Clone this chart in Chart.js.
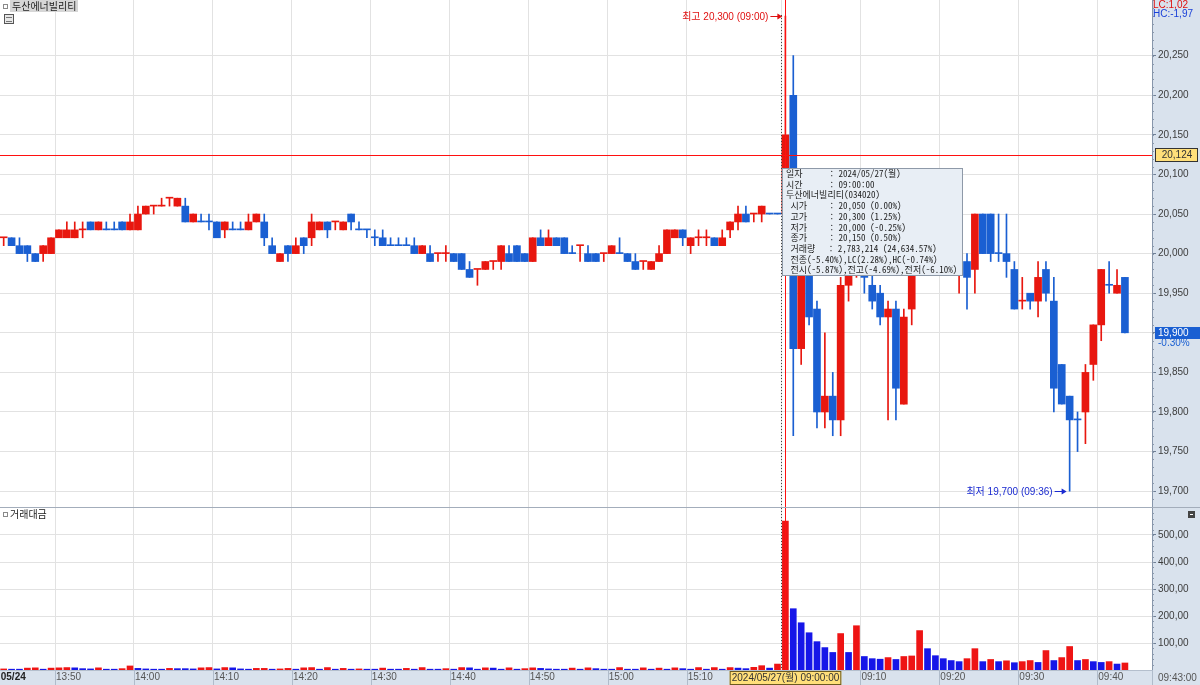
<!DOCTYPE html>
<html lang="ko">
<head>
<meta charset="utf-8">
<script src="https://cdn.jsdelivr.net/npm/chart.js@4.4.1/dist/chart.umd.min.js"></script>
<style>
html,body{margin:0;padding:0;background:#fff;width:1200px;height:685px;overflow:hidden;}
#wrap{position:relative;width:1200px;height:685px;}
#c1,#c2{position:absolute;left:0;display:block;}
#c1{top:0;}
#c2{top:507px;}
.txt{position:absolute;white-space:pre;font-family:'Noto Sans CJK KR',sans-serif;}
#title{left:10px;top:0;height:12px;line-height:12px;font-size:10px;color:#222;background:#d6d6d6;padding:0 2px;}
#ico1{position:absolute;left:3px;top:4px;width:3px;height:3px;border:1px solid #8a8a8a;}
#ico2{position:absolute;left:4px;top:14px;width:8px;height:8px;border:1px solid #555;background:#e8e8e8;}
#ico2:after{content:'';position:absolute;left:1px;top:2px;width:6px;height:3px;border-top:1px solid #777;border-bottom:1px solid #777;}
#ico3{position:absolute;left:3px;top:512px;width:3px;height:3px;border:1px solid #8a8a8a;}
#vtitle{left:10px;top:508px;height:12px;line-height:12px;font-size:10px;color:#222;}
#tip{left:782px;top:168px;width:176px;height:106px;background:#e8eef5;border:1px solid #8e99a8;font-family:'Noto Sans Mono CJK KR','Noto Sans CJK KR','DejaVu Sans Mono',monospace;font-size:9px;line-height:10.7px;color:#1c1c1c;padding:0 0 0 3px;}
</style>
</head>
<body>
<div id="wrap">
<canvas id="c1" width="1200" height="507"></canvas>
<canvas id="c2" width="1200" height="178"></canvas>
<div id="ico1"></div>
<div class="txt" id="title">두산에너빌리티</div>
<div id="ico2"></div>
<div id="ico3"></div>
<div class="txt" id="vtitle">거래대금</div>
<div class="txt" id="tip">일자      : 2024/05/27(월)
시간      : 09:00:00
두산에너빌리티(034020)
 시가     : 20,050 (0.00%)
 고가     : 20,300 (1.25%)
 저가     : 20,000 (-0.25%)
 종가     : 20,150 (0.50%)
 거래량   : 2,783,214 (24,634.57%)
 전종(-5.40%),LC(2.28%),HC(-0.74%)
 전시(-5.87%),전고(-4.69%),전저(-6.10%)</div>
</div>
<script>
// ---------------- DATA ----------------
const fridayTimes = [
 '13:43','13:44','13:45','13:46','13:47','13:48','13:49',
 '13:50','13:51','13:52','13:53','13:54','13:55','13:56','13:57','13:58','13:59',
 '14:00','14:01','14:02','14:03','14:04','14:05','14:06','14:07','14:08','14:09',
 '14:10','14:11','14:12','14:13','14:14','14:15','14:16','14:17','14:18','14:19',
 '14:20','14:21','14:22','14:23','14:24','14:25','14:26','14:27','14:28','14:29',
 '14:30','14:31','14:32','14:33','14:34','14:35','14:36','14:37','14:38','14:39',
 '14:40','14:41','14:42','14:43','14:44','14:45','14:46','14:47','14:48','14:49',
 '14:50','14:51','14:52','14:53','14:54','14:55','14:56','14:57','14:58','14:59',
 '15:00','15:01','15:02','15:03','15:04','15:05','15:06','15:07','15:08','15:09',
 '15:10','15:11','15:12','15:13','15:14','15:15','15:16','15:17','15:18','15:19',
 '15:20','15:30'
];
const mondayTimes = [
 '09:00','09:01','09:02','09:03','09:04','09:05','09:06','09:07','09:08','09:09',
 '09:10','09:11','09:12','09:13','09:14','09:15','09:16','09:17','09:18','09:19',
 '09:20','09:21','09:22','09:23','09:24','09:25','09:26','09:27','09:28','09:29',
 '09:30','09:31','09:32','09:33','09:34','09:35','09:36','09:37','09:38','09:39',
 '09:40','09:41','09:42','09:43'
];
const times = fridayTimes.concat(mondayTimes);

const open = [
 20020,20020,20010,20010,20000,20000,20000,20020,20020,20020,
 20030,20040,20030,20030,20030,20040,20030,20030,20050,20060,
 20060,20070,20060,20060,20040,20040,20040,20040,20030,20030,
 20030,20030,20040,20040,20010,19990,20010,20000,20020,20020,
 20030,20040,20040,20030,20050,20030,20030,20020,20020,20010,
 20010,20010,20010,20000,20000,20000,20000,20000,20000,19980,
 19980,19980,19990,19990,20000,20010,20000,19990,20020,20010,
 20020,20020,20000,20010,20000,20000,20000,20000,20000,20000,
 19990,19990,19980,19990,20000,20020,20030,20010,20020,20020,
 20020,20010,20030,20040,20050,20050,20050,20050,20050,
 20050,20200,19880,19980,19930,19800,19820,19790,19960,19980,
 20000,19960,19950,19920,19930,19810,19930,19990,20030,20010,
 20040,20000,19980,19990,19980,20050,20050,20000,20000,19980,
 19940,19950,19940,19980,19940,19860,19820,19790,19800,19860,
 19910,19960,19950,19970
];
const high = [
 20020,20020,20020,20010,20000,20010,20020,20030,20040,20040,
 20040,20040,20040,20040,20040,20040,20050,20060,20060,20060,
 20070,20070,20070,20070,20050,20050,20050,20040,20040,20040,
 20040,20050,20050,20050,20020,20000,20010,20020,20020,20050,
 20040,20040,20040,20040,20050,20040,20030,20030,20030,20020,
 20020,20020,20020,20010,20010,20000,20010,20000,20000,19990,
 19980,19990,19990,20010,20010,20010,20000,20020,20030,20030,
 20020,20020,20010,20010,20010,20000,20000,20010,20020,20000,
 20000,19990,19990,20010,20030,20030,20030,20020,20030,20030,
 20020,20030,20040,20060,20060,20050,20060,20050,20050,
 20300,20250,20000,20000,19940,19900,19850,19970,19990,20050,
 20050,19980,19960,19940,19940,19930,20000,20050,20050,20050,
 20050,20050,20000,20000,20050,20050,20050,20050,20050,19990,
 19970,19950,19990,19990,19970,19860,19820,19800,19860,19910,
 19980,19990,19980,19970
];
const low = [
 20010,20010,20000,19990,19990,19990,20000,20020,20020,20020,
 20020,20030,20030,20030,20030,20030,20030,20030,20050,20050,
 20060,20060,20060,20040,20040,20040,20030,20020,20020,20030,
 20030,20030,20040,20010,20000,19990,19990,20000,20000,20010,
 20030,20020,20030,20030,20030,20030,20020,20010,20010,20010,
 20010,20010,20000,20000,19990,19990,19990,19990,19980,19970,
 19960,19980,19980,19980,19990,19990,19990,19990,20010,20010,
 20010,20000,20000,19990,19990,19990,19990,20000,20000,19990,
 19980,19980,19980,19990,20000,20020,20010,20000,20010,20010,
 20010,20010,20020,20030,20040,20040,20040,20050,20050,
 20000,19770,19860,19910,19780,19780,19770,19770,19940,19970,
 19950,19930,19910,19790,19790,19810,19910,19980,20000,20000,
 20000,19980,19950,19930,19950,20000,19990,19990,19970,19930,
 19930,19930,19920,19940,19800,19810,19700,19750,19760,19840,
 19890,19950,19950,19900
];
const close = [
 20020,20010,20000,20000,19990,20010,20020,20030,20030,20030,
 20030,20030,20040,20030,20030,20030,20040,20050,20060,20060,
 20060,20070,20070,20040,20050,20040,20040,20020,20040,20030,
 20030,20040,20050,20020,20000,20000,20000,20010,20010,20040,
 20040,20030,20040,20040,20040,20030,20030,20020,20010,20010,
 20010,20010,20000,20010,19990,20000,20000,19990,19980,19970,
 19980,19990,19990,20010,19990,19990,19990,20020,20010,20020,
 20010,20000,20000,20010,19990,19990,20000,20010,20000,19990,
 19980,19990,19990,20000,20030,20030,20020,20020,20020,20020,
 20010,20020,20040,20050,20040,20050,20060,20050,20050,
 20150,19880,19980,19920,19800,19820,19790,19960,19980,20000,
 19970,19940,19920,19930,19830,19920,19990,20030,20010,20040,
 20000,19990,20000,19970,20050,20000,20000,20000,19990,19930,
 19940,19940,19970,19950,19830,19810,19790,19790,19850,19910,
 19980,19960,19960,19900
];
// 거래대금 (trade value)
const tradeValue = [
 4,3,3,7,8,3,7,8,9,8,
 5,4,8,3,3,5,15,6,4,3,
 3,6,5,5,4,8,9,4,9,8,
 4,3,6,6,3,4,6,3,8,9,
 3,9,3,6,3,4,3,3,7,3,
 3,6,3,9,3,3,5,3,9,8,
 3,8,7,3,8,3,5,8,6,4,
 3,3,7,3,8,5,3,3,9,3,
 3,8,3,7,3,8,5,3,9,3,
 9,3,9,7,5,10,16,7,22,
 552,227,175,138,105,83,65,135,65,164,
 50,42,40,46,39,50,52,146,79,53,
 42,35,31,42,79,31,39,31,34,27,
 31,35,28,72,35,46,87,35,39,31,
 28,31,22,26
];
const xTickLabels = ['13:50','14:00','14:10','14:20','14:30','14:40','14:50','15:00','15:10','09:00','09:10','09:20','09:30','09:40'];
const firstDateLabel = '05/24';
const priceTicks = [19700,19750,19800,19850,19900,19950,20000,20050,20100,20150,20200,20250];
const volumeTicks = [100,200,300,400,500];
const crossIndexTime = '09:00';      // crosshair at Monday 09:00
const crossPrice = 20124;            // horizontal crosshair value
const crossDateLabel = '2024/05/27(월) 09:00:00';
const lastTimeLabel = '09:43:00';
const lcText = 'LC:1,02', hcText = 'HC:-1,97';

// ---------------- SETUP ----------------
const N = times.length;
const FONT = "'Liberation Sans','Noto Sans CJK KR',sans-serif";
const KFONT = "'Liberation Sans','Noto Sans CJK KR',sans-serif";
const RED = '#e8170f', BLUE = '#1a5fd2';
const VRED = '#ee1414', VBLUE = '#1616e8';
const XRED = '#ff1010';
const BAND = '#d9e2ed';
const GRID = '#e2e2e2';
const X_MIN = -0.466, X_MAX = 145.43;
const P_MIN = 19680, P_MAX = 20320.3;
const V_MIN = 0, V_MAX = 600;

const dayBreak = fridayTimes.length;
const crossIdx = dayBreak + mondayTimes.indexOf(crossIndexTime);

const dirs = [];
for (let i = 0; i < N; i++) {
  let d;
  if (close[i] > open[i]) d = 1;
  else if (close[i] < open[i]) d = -1;
  else {
    const pc = i > 0 ? close[i-1] : close[i];
    d = close[i] > pc ? 1 : close[i] < pc ? -1 : (i > 0 ? dirs[i-1] : 1);
  }
  dirs.push(d);
}
const candleColors = dirs.map(d => d > 0 ? RED : BLUE);
const volDirs = [];
for (let i = 0; i < N; i++) {
  let d = i === 0 ? 1 : tradeValue[i] > tradeValue[i-1] ? 1 : tradeValue[i] < tradeValue[i-1] ? -1 : volDirs[i-1];
  volDirs.push(d);
}
const volColors = volDirs.map(d => d > 0 ? VRED : VBLUE);

const tickMap = {};
tickMap[-0.5] = firstDateLabel;
xTickLabels.forEach(l => { const i = times.indexOf(l); if (i >= 0) tickMap[i - 0.5] = l; });
const xTickValues = Object.keys(tickMap).map(Number).sort((a,b)=>a-b);

const fmt = v => Math.round(v).toLocaleString('en-US');

function xScale(showLabels) {
  return {
    type: 'linear', min: X_MIN, max: X_MAX, offset: false,
    afterBuildTicks: s => { s.ticks = xTickValues.map(v => ({value: v})); },
    afterFit: s => { s.height = showLabels ? 15 : 0; s.paddingLeft = 0; s.paddingRight = 0; },
    grid: { color: GRID, drawTicks: false, offset: false },
    border: { display: showLabels, color: '#b4bfcd' },
    ticks: {
      display: showLabels, autoSkip: false, maxRotation: 0, minRotation: 0,
      align: 'start', padding: 1, labelOffset: 1,
      color: c => (c.tick && c.tick.value === -0.5) ? '#222' : '#555',
      font: c => ({ family: FONT, size: 10, weight: (c.tick && c.tick.value === -0.5) ? 'bold' : 'normal' }),
      callback: v => tickMap[v] !== undefined ? tickMap[v] : ''
    }
  };
}
function yScale(min, max, ticks, fmtFn) {
  return {
    position: 'right', min, max,
    afterBuildTicks: s => { s.ticks = ticks.map(v => ({value: v})); },
    afterFit: s => { s.width = 48; s.paddingTop = 0; s.paddingBottom = 0; },
    grid: { color: GRID, tickColor: '#6f7f95', tickLength: 4, drawTicks: true },
    border: { display: true, color: '#8796ab' },
    ticks: { color: '#3c3c3c', font: { family: FONT, size: 10 }, padding: 2, callback: fmtFn }
  };
}

function drawMinorTicks(ctx, a, ys, from, to, step) {
  ctx.strokeStyle = '#8a98ab'; ctx.lineWidth = 1;
  ctx.beginPath();
  for (let v = from; v <= to; v += step) {
    const py = Math.round(ys.getPixelForValue(v)) + 0.5;
    if (py < a.top || py > a.bottom) continue;
    ctx.moveTo(a.right, py); ctx.lineTo(a.right + 2, py);
  }
  ctx.stroke();
}

function arrowRight(ctx, tipX, yy, color) {
  ctx.strokeStyle = color; ctx.fillStyle = color; ctx.lineWidth = 1;
  ctx.beginPath(); ctx.moveTo(tipX - 12, yy + 0.5); ctx.lineTo(tipX - 3, yy + 0.5); ctx.stroke();
  ctx.beginPath(); ctx.moveTo(tipX, yy + 0.5); ctx.lineTo(tipX - 5, yy - 2.5); ctx.lineTo(tipX - 5, yy + 3.5); ctx.closePath(); ctx.fill();
}

const pricePlugin = {
  id: 'pricePlugin',
  beforeDraw(chart) {
    const {ctx, chartArea: a, width, height} = chart;
    ctx.save(); ctx.fillStyle = BAND; ctx.fillRect(a.right, 0, width - a.right, height); ctx.restore();
  },
  afterDraw(chart) {
    const {ctx, chartArea: a, scales: {x, y}} = chart;
    ctx.save();
    drawMinorTicks(ctx, a, y, 19690, 20320, 10);
    // day separator (dotted)
    const sx = Math.round(x.getPixelForValue(dayBreak - 0.5)) + 0.5;
    ctx.strokeStyle = '#444'; ctx.lineWidth = 1; ctx.setLineDash([1, 2]);
    ctx.beginPath(); ctx.moveTo(sx, 15); ctx.lineTo(sx, a.bottom); ctx.stroke();
    ctx.setLineDash([]);
    // crosshair
    const cx = Math.round(x.getPixelForValue(crossIdx)) + 0.5;
    const cy = Math.round(y.getPixelForValue(crossPrice)) + 0.5;
    ctx.strokeStyle = XRED; ctx.lineWidth = 1;
    ctx.beginPath(); ctx.moveTo(cx, 0); ctx.lineTo(cx, a.bottom); ctx.stroke();
    ctx.beginPath(); ctx.moveTo(a.left, cy); ctx.lineTo(a.right, cy); ctx.stroke();
    // high / low annotations
    const hi = Math.max(...high), lo = Math.min(...low);
    const hiIdx = high.indexOf(hi), loIdx = low.indexOf(lo);
    ctx.font = "10px " + KFONT; ctx.textBaseline = 'middle'; ctx.textAlign = 'right';
    const hx = x.getPixelForValue(hiIdx) - 3, hy = Math.round(y.getPixelForValue(hi));
    arrowRight(ctx, hx, hy, '#e01010');
    ctx.fillStyle = '#e01010';
    ctx.fillText('최고 ' + fmt(hi) + ' (' + times[hiIdx] + ')', hx - 14, hy + 1);
    const lx = x.getPixelForValue(loIdx) - 3, ly = Math.round(y.getPixelForValue(lo));
    arrowRight(ctx, lx, ly, '#1a2ad0');
    ctx.fillStyle = '#1a2ad0';
    ctx.fillText('최저 ' + fmt(lo) + ' (' + times[loIdx] + ')', lx - 14, ly + 1);
    // crosshair price label
    ctx.textAlign = 'center'; ctx.font = "10px " + FONT;
    ctx.fillStyle = '#ffdf7a'; ctx.fillRect(a.right + 3, cy - 7.5, 43, 14);
    ctx.strokeStyle = '#333'; ctx.strokeRect(a.right + 3.5, cy - 7, 42, 13);
    ctx.fillStyle = '#333'; ctx.fillText(fmt(crossPrice), a.right + 25, cy);
    // last price label
    const last = close[N-1], prev = close[N-2];
    const ly2 = Math.round(y.getPixelForValue(last));
    ctx.fillStyle = '#1a5fd2'; ctx.fillRect(a.right + 3, ly2 - 6, 46, 12);
    ctx.textAlign = 'left'; ctx.fillStyle = '#fff';
    ctx.fillText(fmt(last), a.right + 6, ly2);
    ctx.fillStyle = '#1a5fd2';
    ctx.fillText(((last - prev) / prev * 100).toFixed(2) + '%', a.right + 6, ly2 + 10);
    // LC / HC
    ctx.font = "10px " + FONT;
    ctx.fillStyle = '#e01010'; ctx.fillText(lcText, a.right + 1, 5);
    ctx.fillStyle = '#1a40d8'; ctx.fillText(hcText, a.right + 1, 14);
    ctx.restore();
  }
};

const volPlugin = {
  id: 'volPlugin',
  beforeDraw(chart) {
    const {ctx, chartArea: a, width, height} = chart;
    ctx.save(); ctx.fillStyle = BAND;
    ctx.fillRect(a.right, 0, width - a.right, height);
    ctx.fillRect(0, a.bottom, width, height - a.bottom);
    ctx.restore();
  },
  afterDraw(chart) {
    const {ctx, chartArea: a, scales: {x, y}, width, height} = chart;
    ctx.save();
    drawMinorTicks(ctx, a, y, 20, 580, 20);
    // band separators at x ticks
    ctx.strokeStyle = '#b0bccb'; ctx.lineWidth = 1; ctx.beginPath();
    xTickValues.forEach(v => { const px = Math.round(x.getPixelForValue(v)) + 0.5; if (px > 1) { ctx.moveTo(px, a.bottom); ctx.lineTo(px, height); } });
    ctx.moveTo(a.right + 0.5, a.bottom); ctx.lineTo(a.right + 0.5, height);
    ctx.stroke();
    // divider at top
    ctx.strokeStyle = '#a3adbb'; ctx.beginPath(); ctx.moveTo(0, 0.5); ctx.lineTo(width, 0.5); ctx.stroke();
    // day separator
    const sx = Math.round(x.getPixelForValue(dayBreak - 0.5)) + 0.5;
    ctx.strokeStyle = '#444'; ctx.setLineDash([1, 2]);
    ctx.beginPath(); ctx.moveTo(sx, 1); ctx.lineTo(sx, a.bottom); ctx.stroke();
    ctx.setLineDash([]);
    // crosshair vertical
    const cx = Math.round(x.getPixelForValue(crossIdx)) + 0.5;
    ctx.strokeStyle = XRED;
    ctx.beginPath(); ctx.moveTo(cx, 1); ctx.lineTo(cx, a.bottom); ctx.stroke();
    // crosshair time label
    ctx.font = "10px " + KFONT; ctx.textBaseline = 'middle'; ctx.textAlign = 'center';
    const tw = ctx.measureText(crossDateLabel).width + 4;
    ctx.fillStyle = '#ffdf7a'; ctx.fillRect(cx - tw / 2, a.bottom + 1, tw, height - a.bottom - 1);
    ctx.strokeStyle = '#6b5a20'; ctx.strokeRect(cx - tw / 2 + 0.5, a.bottom + 1.5, tw - 1, height - a.bottom - 2);
    ctx.fillStyle = '#333'; ctx.fillText(crossDateLabel, cx, a.bottom + 8);
    // last time label
    ctx.textAlign = 'left'; ctx.fillStyle = '#555';
    ctx.fillText(lastTimeLabel, a.right + 6, a.bottom + 8);
    // small button icon
    ctx.fillStyle = '#444'; ctx.fillRect(width - 12, 4, 7, 7);
    ctx.fillStyle = '#fff'; ctx.fillRect(width - 10, 7, 3, 1);
    ctx.restore();
  }
};

Chart.defaults.font.family = FONT;

new Chart(document.getElementById('c1'), {
  type: 'bar',
  data: {
    datasets: [
      { label: 'body', data: times.map((t, i) => ({x: i, y: [Math.min(open[i], close[i]), Math.max(open[i], close[i])]})),
        backgroundColor: candleColors, barThickness: 7, minBarLength: 1, grouped: false, borderWidth: 0 },
      { label: 'wick', data: times.map((t, i) => ({x: i, y: [low[i], high[i]]})),
        backgroundColor: candleColors, barThickness: 1, grouped: false, borderWidth: 0 }
    ]
  },
  options: {
    responsive: false, animation: false, devicePixelRatio: 1,
    layout: { padding: 0 },
    plugins: { legend: { display: false }, tooltip: { enabled: false } },
    scales: {
      x: xScale(false),
      y: yScale(P_MIN, P_MAX, priceTicks, v => fmt(v))
    }
  },
  plugins: [pricePlugin]
});

new Chart(document.getElementById('c2'), {
  type: 'bar',
  data: {
    datasets: [
      { label: '거래대금', data: times.map((t, i) => ({x: i, y: tradeValue[i]})),
        backgroundColor: volColors, barThickness: 6, grouped: false, borderWidth: 0 }
    ]
  },
  options: {
    responsive: false, animation: false, devicePixelRatio: 1,
    layout: { padding: { top: 1 } },
    plugins: { legend: { display: false }, tooltip: { enabled: false } },
    scales: {
      x: xScale(true),
      y: yScale(V_MIN, V_MAX, volumeTicks, v => v + ',00')
    }
  },
  plugins: [volPlugin]
});
</script>
</body>
</html>
